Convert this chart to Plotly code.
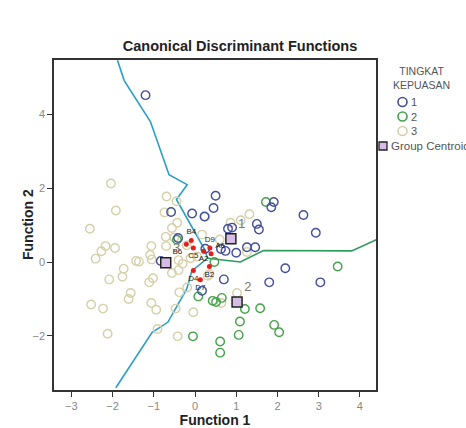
import plotly.graph_objects as go

# ---- data ----
g1_x = [-1.20, 0.50, 0.45, -0.07, 0.23, -0.58, 1.91, 1.85, 2.63, 1.50, 1.55, 2.93, 0.80, 0.90,
        1.26, 1.46, -0.41, 1.00, 0.74, 0.63, 0.25, -0.83, 2.19, 0.70, 1.80, 3.04, 0.17]
g1_y = [4.51, 1.79, 1.46, 1.31, 1.23, 1.35, 1.62, 1.48, 1.27, 1.03, 0.88, 0.79, 0.90, 0.93,
        0.40, 0.40, 0.65, 0.25, 0.30, 0.35, 0.36, 0.03, -0.17, -0.47, -0.55, -0.55, -0.78]

g2_x = [1.72, -0.44, 0.47, 3.46, 0.08, 0.43, 0.51, 0.65, 1.21, 1.58, 1.09, 1.92, 2.04, 1.06,
        -0.05, 0.61, 0.61]
g2_y = [1.62, 0.60, 0.00, -0.12, -0.93, -1.05, -1.08, -0.97, -1.27, -1.25, -1.61, -1.70, -1.90,
        -1.97, -2.01, -2.15, -2.45]

g3_x = [-2.04, -1.92, -2.55, -0.69, -0.45, -0.74, -0.43, -0.56, -0.71, -0.50, 0.17, 0.60, 0.86,
        1.11, 1.32, -2.17, -2.27, -2.41, -1.94, -1.06, -1.09, -1.05, -1.43, -1.36, -0.70, -0.40,
        -0.11, -1.73, -1.76, -2.08, -1.02, -1.11, -0.56, -0.40, -1.56, -1.61, -2.52, -2.23, -1.06,
        -0.94, -0.47, -0.04, -0.38, -0.19, -2.12, -0.91, -0.42, 1.02, 0.64, 0.31, 0.35, 1.26, 0.25,
        -0.20, 0.05, -0.30]
g3_y = [2.12, 1.39, 0.90, 1.77, 1.64, 1.34, 1.06, 0.92, 0.68, 0.66, 0.74, 0.61, 1.06,
        1.13, 1.29, 0.43, 0.29, 0.09, 0.38, 0.43, 0.19, 0.07, 0.03, 0.01, 0.43, 0.05,
        0.10, -0.18, -0.40, -0.47, -0.44, -0.55, -0.30, -0.22, -0.84, -1.00, -1.15, -1.26, -1.11,
        -1.29, -1.26, -1.36, -0.82, -0.69, -1.94, -1.81, -2.01, -0.84, -1.11, -0.37, -0.33, 0.27, 1.22,
        0.45, 0.15, -0.05]

cent_x = [0.87, 1.02, -0.71]
cent_y = [0.63, -1.08, -0.02]
cent_labels = ["1", "2", "3"]

red_labels = ["B4", "B6", "C5", "A2", "D9", "A6", "B2", "D4", "D7"]
red_x = [-0.09, -0.21, -0.04, 0.21, 0.36, 0.39, 0.35, -0.04, 0.13]
red_y = [0.58, 0.48, 0.38, 0.29, 0.38, 0.22, -0.12, -0.23, -0.48]
red_pos = ["top center", "bottom left", "bottom center", "bottom center", "top center",
           "top right", "bottom center", "bottom center", "bottom center"]

blue_line_x = [-1.88, -1.72, -1.08, -0.63, -0.19, -0.45, 0.25, 0.30, -0.08, -0.20, -0.66, -1.04, -1.92]
blue_line_y = [5.45, 4.91, 3.79, 2.36, 2.09, 1.69, 0.30, 0.10, -0.25, -0.73, -1.63, -1.90, -3.40]
green_line_x = [0.30, 1.10, 1.66, 3.80, 4.45]
green_line_y = [0.10, 0.00, 0.31, 0.30, 0.63]

x_ticks = [-3, -2, -1, 0, 1, 2, 3, 4]
y_ticks = [-2, 0, 2, 4]

legend_title = "TINGKAT<br>KEPUASAN"
legend_names = ["1", "2", "3"]
legend_colors = ["#434f9c", "#46a24a", "#d6d0aa"]
centroid_name = "Group Centroid"

FONT = "Liberation Sans, Arial, sans-serif"
W, H = 466, 428
ML, MR, MT, MB = 54, 90, 60, 38
PW, PH = W - ML - MR, H - MT - MB


def px_x(p):
    return (p - ML) / PW


def px_y(p):
    return (H - MB - p) / PH


fig = go.Figure()

fig.add_trace(go.Scatter(x=blue_line_x, y=blue_line_y, mode="lines",
                         line=dict(color="#2a9ec8", width=1.6), showlegend=False, hoverinfo="skip"))
fig.add_trace(go.Scatter(x=green_line_x, y=green_line_y, mode="lines",
                         line=dict(color="#2e9a5c", width=1.6), showlegend=False, hoverinfo="skip"))

marker_common = dict(symbol="circle-open", size=8.5)
fig.add_trace(go.Scatter(x=g3_x, y=g3_y, mode="markers", name="3", showlegend=False,
                         marker=dict(color=legend_colors[2], line=dict(width=1.4), **marker_common)))
fig.add_trace(go.Scatter(x=g2_x, y=g2_y, mode="markers", name="2", showlegend=False,
                         marker=dict(color=legend_colors[1], line=dict(width=1.4), **marker_common)))
fig.add_trace(go.Scatter(x=g1_x, y=g1_y, mode="markers", name="1", showlegend=False,
                         marker=dict(color=legend_colors[0], line=dict(width=1.4), **marker_common)))

fig.add_trace(go.Scatter(x=red_x, y=red_y, mode="markers+text", text=red_labels,
                         textposition=red_pos,
                         textfont=dict(family=FONT, size=8, color="#222"),
                         marker=dict(color="#e0201c", size=5), showlegend=False))

fig.add_trace(go.Scatter(x=cent_x, y=cent_y, mode="markers+text", name=centroid_name,
                         text=cent_labels, textposition="top right", showlegend=False,
                         textfont=dict(family=FONT, size=13, color="#777"),
                         marker=dict(symbol="square", size=10, color="#d6bde6",
                                     line=dict(color="#222", width=1.5))))

# ---- manual legend (outside the plot, on the right) ----
shapes = []
annotations = [
    dict(text=legend_title, xref="paper", yref="paper", x=px_x(421), y=px_y(78),
         xanchor="center", yanchor="middle", showarrow=False,
         font=dict(family=FONT, size=10.5, color="#555"), align="center"),
    dict(text="<b>Function 2</b>", xref="paper", yref="paper", x=px_x(28), y=0.5,
         xanchor="center", yanchor="middle", showarrow=False, textangle=-90,
         font=dict(family=FONT, size=14, color="#222")),
]
item_y = [102, 116.5, 131]
for name, col, yy in zip(legend_names, legend_colors, item_y):
    r = 4.5
    shapes.append(dict(type="circle", xref="paper", yref="paper",
                       x0=px_x(402.5 - r), x1=px_x(402.5 + r),
                       y0=px_y(yy + r), y1=px_y(yy - r),
                       line=dict(color=col, width=1.6), fillcolor="rgba(0,0,0,0)"))
    annotations.append(dict(text=name, xref="paper", yref="paper", x=px_x(409), y=px_y(yy),
                            xanchor="left", yanchor="middle", showarrow=False,
                            font=dict(family=FONT, size=11, color="#555")))
shapes.append(dict(type="rect", xref="paper", yref="paper",
                   x0=px_x(379), x1=px_x(387), y0=px_y(150), y1=px_y(142),
                   line=dict(color="#222", width=1.3), fillcolor="#d6bde6"))
annotations.append(dict(text=centroid_name, xref="paper", yref="paper", x=px_x(389), y=px_y(146),
                        xanchor="left", yanchor="middle", showarrow=False,
                        font=dict(family=FONT, size=11.5, color="#555")))

fig.update_layout(
    width=W, height=H,
    paper_bgcolor="white", plot_bgcolor="white",
    margin=dict(l=ML, r=MR, t=MT, b=MB, autoexpand=False),
    title=dict(text="<b>Canonical Discriminant Functions</b>", x=240 / W, xanchor="center",
               y=1 - 46 / H, yanchor="middle", font=dict(family=FONT, size=14.5, color="#222")),
    font=dict(family=FONT),
    showlegend=False,
    shapes=shapes,
    annotations=annotations,
    xaxis=dict(range=[-3.42, 4.39], tickvals=x_ticks, ticks="outside", ticklen=5,
               tickcolor="#333", showgrid=False, zeroline=False, showline=True,
               linecolor="#333", linewidth=1.5, mirror=True,
               tickfont=dict(family=FONT, size=11, color="#888"),
               title=dict(text="<b>Function 1</b>", font=dict(family=FONT, size=14, color="#222"),
                          standoff=9)),
    yaxis=dict(range=[-3.46, 5.46], tickvals=y_ticks, ticks="outside", ticklen=5,
               tickcolor="#333", showgrid=False, zeroline=False, showline=True,
               linecolor="#333", linewidth=1.5, mirror=True,
               tickfont=dict(family=FONT, size=11, color="#888")),
)

fig.write_html("out.html", post_script="document.body.style.margin='0';",
               config={"displayModeBar": False})
